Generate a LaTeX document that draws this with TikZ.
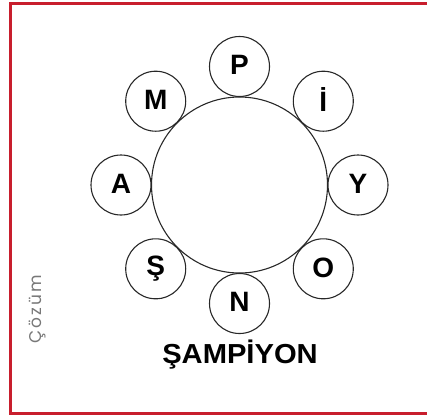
\documentclass[tikz,border=0pt]{standalone}
\usepackage{fontspec}
\usetikzlibrary{calc}
\setmainfont{Liberation Sans}
\newfontfamily\popfont{Poppins}[LetterSpace=13]
\definecolor{framered}{RGB}{200,30,45}
\definecolor{ringgray}{RGB}{40,40,40}
\definecolor{notegray}{RGB}{120,120,120}
\begin{document}
\begin{tikzpicture}[x=1pt,y=-1pt,
  ring/.style={circle,draw=ringgray,line width=1.1pt,fill=white,inner sep=0pt,minimum size=60pt,
    font=\fontsize{28}{32}\selectfont\bfseries},
  bigring/.style={circle,draw=ringgray,line width=1.1pt,inner sep=0pt,minimum size=176pt}]
\useasboundingbox (0,0) rectangle (427,416);
\draw[framered,line width=3pt] (440,3.5) -- (10.5,3.5) -- (10.5,413.5) -- (440,413.5);
\node[bigring] (C) at (239.5,185) {};
\foreach \ang/\lt/\nm in {90/P/p,45/İ/i,0/Y/y,-45/O/o,-90/N/n,-135/Ş/s,180/A/a,135/M/m}{
  \node[ring] (\nm) at ($(C)+(-\ang:118.5)$) {\raisebox{3pt}{\lt}};
}
\node[font=\fontsize{27.5}{32}\selectfont\bfseries,xscale=1.06,anchor=base] (word) at (240,363.5) {ŞAMPİYON};
\node[rotate=90,text=notegray,font=\popfont\fontsize{17}{20}\selectfont] (note) at (37.5,309) {Çözüm};
\end{tikzpicture}
\end{document}
